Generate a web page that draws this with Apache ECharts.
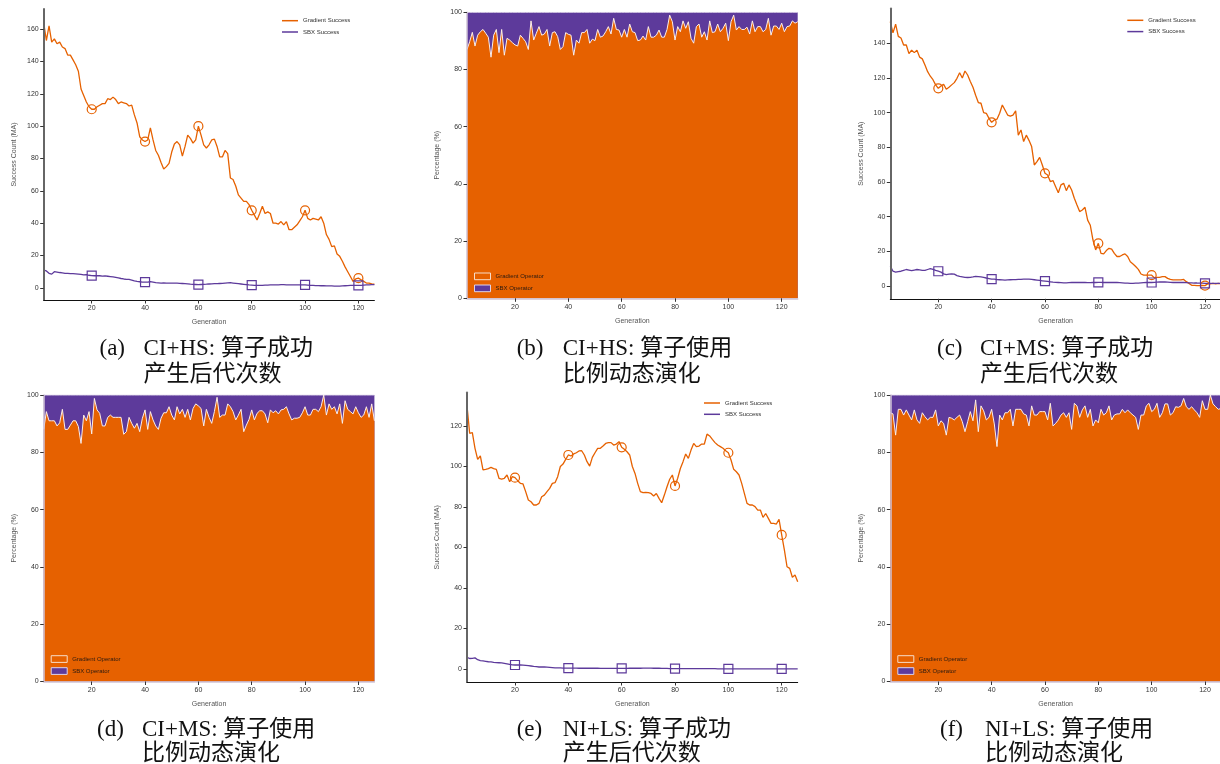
<!DOCTYPE html>
<html>
<head>
<meta charset="utf-8">
<script src="https://cdn.jsdelivr.net/npm/echarts@6/dist/echarts.min.js"></script>
<style>
html, body { margin: 0; padding: 0; background: #fff; }
#main { width: 1220px; height: 764px; }
</style>
</head>
<body>
<div id="main"></div>
<script>
// generations 2..126 on every panel
var generations = [];
for (var g = 2; g <= 126; g++) generations.push(g);

var genTicks = [20, 40, 60, 80, 100, 120];
var markerGens = [20, 40, 60, 80, 100, 120];
var pctTicks = [0, 20, 40, 60, 80, 100];
var countTicksA = [0, 20, 40, 60, 80, 100, 120, 140, 160];
var countTicksC = [0, 20, 40, 60, 80, 100, 120, 140];
var countTicksE = [0, 20, 40, 60, 80, 100, 120];

// (a) CI+HS success counts (moving average)
var gradSuccessA = [
  164, 153, 162, 152, 154, 151, 152, 149, 148, 144,
  144, 141, 138, 134, 123, 119, 115, 112, 110.5, 110.5,
  112, 113, 114, 114, 117, 116.5, 118, 116.5, 114, 115,
  114.5, 114, 112.5, 113, 107, 102, 93.5, 91.5, 90.5, 91.5,
  99, 91.5, 85, 82, 77.5, 73.5, 75, 77, 84, 89,
  90.5, 88.5, 81.5, 87.5, 94.5, 92.5, 89.5, 91.5, 100, 94.5,
  88.5, 86.5, 88.5, 91.5, 92, 87.5, 81, 81, 85, 83,
  68, 67, 63, 57.5, 55.5, 53.5, 53.5, 51.5, 48, 45,
  42, 46, 50.5, 46, 47, 46, 40, 40, 39.5, 41,
  39, 41, 36, 36, 37.5, 39, 41.5, 44, 48, 43,
  42, 43, 42.5, 42, 44, 40, 33, 30, 25.5, 26,
  21, 19.5, 16.5, 13, 10, 7, 4, 5.5, 6, 5,
  4, 3, 3, 2.5, 2.3
];
var sbxSuccessA = [
  11, 10.5, 9, 8.5, 10, 9.8, 9.5, 9.3, 9, 9,
  8.8, 8.8, 8.7, 8.5, 8.3, 8, 8.2, 7.8, 7.6, 7.5,
  7.6, 7.5, 7.3, 7.4, 7.2, 7, 6.8, 6.5, 6.2, 5.8,
  5.5, 5.3, 5.2, 4.8, 4.3, 4, 3.8, 3.6, 3.5, 3.6,
  3.8, 3.5, 3.2, 3.1, 3, 3.1, 3, 3, 3, 2.9,
  2.9, 2.8, 2.7, 2.6, 2.5, 2.3, 2.2, 2.1, 2, 2.1,
  2.2, 2.3, 2.4, 2.5, 2.6, 2.6, 2.7, 2.8, 3, 3.1,
  3.2, 3, 2.8, 2.6, 2.4, 2.2, 2, 1.8, 1.7, 1.6,
  1.5, 1.5, 1.6, 1.7, 1.7, 1.8, 1.8, 1.8, 1.9, 2,
  2, 1.9, 1.9, 1.8, 1.8, 1.8, 1.8, 1.8, 1.8, 1.7,
  1.6, 1.5, 1.4, 1.4, 1.3, 1.3, 1.2, 1.2, 1.2, 1.1,
  1.1, 1.1, 1.2, 1.3, 1.4, 1.5, 1.6, 1.6, 1.5, 1.6,
  1.7, 1.8, 1.9, 2, 2
];

// (b) CI+HS gradient operator share (%)
var gradShareB = [
  87, 89.7, 93, 88.2, 92, 93.2, 94, 92.7, 91.3, 84.3,
  92, 94, 85.9, 94, 85, 90.9, 90.3, 89.4, 88.6, 88.2,
  92, 90.9, 89.7, 87, 97, 90.3, 92.7, 95, 92, 92.4,
  94, 88.2, 92.9, 93.2, 91.5, 87, 88, 92.9, 92.3, 92,
  85, 90.3, 89.2, 92.9, 92.9, 94, 89.2, 90.6, 90.1, 94,
  91.3, 91.7, 93.2, 95, 92.4, 97.9, 94, 93.8, 91.3, 94,
  91.3, 95.9, 93.2, 92.9, 90.1, 90.3, 91.7, 90.3, 95, 91.3,
  91.3, 92, 93.8, 91.3, 91.3, 94, 99, 96.7, 90.3, 95,
  93.2, 97, 94.4, 96.7, 90.9, 89.2, 95, 95.9, 91.3, 93.2,
  90.3, 97, 92.9, 93.2, 95.9, 93.2, 94.4, 96.2, 90.1, 96.7,
  99, 93.8, 95, 94, 94, 94.8, 92.4, 97, 93.2, 95,
  95, 93.2, 94, 97.9, 92, 95.2, 95.2, 94, 96.2, 93.2,
  95, 95.2, 97, 96.2, 96.7
];

// (c) CI+MS success counts (moving average)
var gradSuccessC = [
  152.5, 146, 151, 144, 143, 139, 139, 134, 136, 134.6,
  136, 132, 131, 127.5, 123.6, 121, 119, 116, 114, 115.4,
  116.3, 113.5, 114.6, 116, 117.3, 119.8, 123, 120, 124, 121.7,
  118, 114.6, 110, 105.8, 105.4, 100, 99.6, 96.7, 94.4, 95.8,
  96.2, 99.6, 104.4, 101.5, 98.6, 98, 98.6, 101, 87, 90,
  83.3, 87, 84, 80.4, 69.8, 71.7, 74.2, 69.8, 65, 64,
  60.2, 60.8, 57.3, 53.8, 58.3, 59.2, 55, 58.3, 55.4, 50.6,
  46.7, 42.9, 43.8, 45.4, 38, 35, 26.5, 20.8, 24.6, 18.8,
  18.5, 20.4, 21.7, 21.2, 18.8, 17, 17, 17.9, 18.5, 17,
  14, 12.7, 11.2, 9.6, 6.9, 6.3, 6.3, 6.3, 6.2, 4.8,
  5, 5, 5.4, 5.4, 4.4, 3.8, 3.5, 3.5, 3.5, 3.5,
  3.8, 2.5, 1.5, 0.4, 0.4, 0.2, 0.2, 0.4, 0.2, 1.2,
  1.2, 1.5, 1.2, 1.5, 1.2
];
var sbxSuccessC = [
  11.5, 8.5, 8, 8.3, 8.5, 9, 9.5, 9.2, 8.8, 9.2,
  9.5, 9.3, 9, 9, 9.5, 10, 9.6, 9, 8.5, 8,
  7, 6.5, 6.8, 7, 6.8, 6, 5.5, 5.3, 5, 4.9,
  5, 5.2, 5.5, 5.4, 5.2, 5, 4.6, 4.3, 4, 3.9,
  3.7, 3.6, 3.5, 3.4, 3.5, 3.6, 3.7, 3.7, 3.8, 3.8,
  3.9, 4, 4, 3.8, 3.6, 3.4, 3.2, 3, 2.8, 2.6,
  2.4, 2.2, 2.1, 2, 1.9, 1.8, 1.8, 1.9, 2, 2,
  2.1, 2, 2, 2, 1.9, 1.9, 2, 2, 2.1, 2.1,
  2, 2, 2, 2, 2.1, 2, 1.9, 1.8, 1.7, 1.6,
  1.5, 1.5, 1.6, 1.7, 1.8, 1.9, 2, 2, 2, 2.1,
  2.2, 2.3, 2.3, 2.3, 2.2, 2.1, 2, 2, 2, 2,
  2, 1.9, 1.8, 1.8, 1.7, 1.7, 1.6, 1.6, 1.5, 1.5,
  1.5, 1.5, 1.5, 1.5, 1.5
];

// (d) CI+MS gradient operator share (%)
var gradShareD = [
  88, 94.2, 91, 91, 91, 89.2, 90.3, 95, 88, 88,
  89.5, 91, 91, 89, 83.1, 93, 91, 94.2, 86.4, 98.8,
  94.8, 93.6, 89.2, 89.2, 92.2, 93, 92.2, 92.2, 92.2, 92.2,
  86.3, 87.2, 92.2, 90.1, 88.4, 90.1, 87.2, 91.9, 94.8, 88,
  94.2, 91.3, 89.2, 88, 91.9, 93.8, 93.8, 95.9, 93, 91.3,
  95.9, 93.4, 95, 92.2, 95, 91.3, 95.3, 96.9, 96.2, 95.3,
  89.2, 95, 92.2, 90.1, 94.2, 99.2, 92.2, 93, 93, 96.9,
  95.9, 94.2, 91.3, 93, 95, 87.2, 89.5, 91.5, 94.8, 91.3,
  93.6, 94.5, 94.5, 93.4, 90.3, 94.8, 93.8, 94.5, 93.4, 94.8,
  95, 95.9, 93.4, 91.3, 91.9, 91.9, 92.2, 93.8, 95.9, 93,
  93, 95, 95, 94.2, 95.9, 100, 93, 96.9, 95, 95.9,
  93.4, 96.9, 90.1, 98, 95, 94.2, 93.4, 95.9, 93.8, 92.2,
  93, 95.9, 92.2, 96.9, 91
];

// (e) NI+LS success counts (moving average)
var gradSuccessE = [
  130, 116.4, 116.7, 109, 103.5, 105.2, 98.3, 98.6, 99, 99.6,
  99, 98.6, 94.2, 93.8, 94.2, 95.8, 92.5, 95, 94.5, 93,
  91.7, 91.4, 87.6, 83.5, 82.6, 81, 81, 81.8, 85.1, 85.9,
  87.6, 89.2, 91.7, 92, 95, 100, 101.2, 103.5, 105.7, 105.2,
  106.2, 106.8, 107.7, 107.8, 105.7, 102.4, 100.2, 104.5, 106.8, 109,
  109, 110.1, 111.4, 111.8, 111.8, 110.6, 111.1, 112.3, 109.5, 108.5,
  107.3, 105.7, 100, 96.6, 91.7, 87.6, 87.1, 87.2, 87.1, 86.7,
  85.4, 86.7, 84.3, 82.1, 85.9, 90, 93.7, 95.8, 90.4, 94.2,
  99, 102.4, 106.2, 104, 108.1, 111.4, 109.8, 110.1, 111.1, 111.1,
  116, 115.1, 113.4, 111.8, 110.6, 109.8, 109, 107.8, 106.8, 103.2,
  98.6, 97.4, 95.8, 91.7, 86.7, 81.8, 81, 81, 80.2, 78.5,
  78.5, 74.9, 76.8, 74.4, 71.9, 71.9, 71.6, 73.9, 66.2, 58.8,
  50.5, 49.7, 45.3, 46.4, 43.1
];
var sbxSuccessE = [
  5.8, 5.2, 5.3, 5.5, 4.6, 4.2, 4, 3.8, 3.6, 3.5,
  3.3, 3.2, 3.1, 3, 2.8, 2.6, 2.3, 2.1, 2, 2,
  2, 1.9, 1.8, 1.7, 1.5, 1.3, 1.2, 1, 1, 1,
  0.9, 0.8, 0.7, 0.6, 0.6, 0.6, 0.5, 0.5, 0.5, 0.5,
  0.5, 0.5, 0.4, 0.4, 0.4, 0.4, 0.4, 0.4, 0.4, 0.4,
  0.3, 0.3, 0.3, 0.3, 0.3, 0.3, 0.3, 0.3, 0.3, 0.3,
  0.3, 0.4, 0.4, 0.4, 0.4, 0.4, 0.5, 0.5, 0.5, 0.5,
  0.4, 0.4, 0.4, 0.3, 0.3, 0.3, 0.2, 0.2, 0.2, 0.2,
  0.2, 0.2, 0.2, 0.2, 0.2, 0.2, 0.2, 0.2, 0.2, 0.2,
  0.2, 0.2, 0.2, 0.2, 0.1, 0.1, 0.1, 0.1, 0.1, 0.1,
  0.1, 0.1, 0.1, 0.1, 0.1, 0.1, 0.1, 0.1, 0.1, 0.1,
  0.1, 0.1, 0.1, 0.1, 0.1, 0.1, 0.1, 0.1, 0.1, 0.1,
  0.1, 0.1, 0.1, 0.1, 0.1
];

// (f) NI+LS gradient operator share (%)
var gradShareF = [
  93.8, 93.4, 86, 95, 95, 93, 94.8, 93, 91.3, 94.8,
  91.3, 90.1, 93.8, 92.4, 91.3, 92.2, 92.2, 94.8, 89.2, 91,
  90.1, 86, 92.2, 91.9, 91.3, 92.2, 93, 90.7, 87.2, 90.7,
  94.2, 91, 98.3, 87.2, 96.2, 94.5, 91.3, 92.2, 95, 89.9,
  82, 93, 91.3, 93.8, 93.8, 95, 89.2, 95, 95, 95,
  93.4, 93, 89.2, 96.2, 93, 93, 94.2, 94.2, 94.2, 91.3,
  97.1, 89.2, 90.1, 91.3, 93, 93.8, 92.2, 93.8, 88, 97.1,
  96.2, 92.2, 94.8, 96.2, 92.2, 95, 89.2, 91.3, 90.3, 95,
  93, 93.8, 96.2, 91.3, 93, 93.4, 93.4, 95, 93.8, 94.8,
  93.8, 93, 92.2, 88, 93, 93, 96.2, 97.1, 94.2, 95,
  97.1, 92.2, 93.8, 96.9, 96.9, 93, 93.8, 95.9, 95.7, 96.2,
  98.8, 95.9, 95, 95.9, 94.8, 93.8, 92.2, 98, 95, 95,
  100, 96.9, 95.9, 95, 95.3
];

// the SBX share is the rest of each generation's 100%
function complement(vals) { return vals.map(function (v) { return Math.round((100 - v) * 10) / 10; }); }
var sbxShareB = complement(gradShareB);
var sbxShareD = complement(gradShareD);
var sbxShareF = complement(gradShareF);

var captionTags = ['(a)', '(b)', '(c)', '(d)', '(e)', '(f)'];
var captionLine1 = ['CI+HS: 算子成功', 'CI+HS: 算子使用', 'CI+MS: 算子成功', 'CI+MS: 算子使用', 'NI+LS: 算子成功', 'NI+LS: 算子使用'];
var captionLine2 = ['产生后代次数', '比例动态演化', '产生后代次数', '比例动态演化', '产生后代次数', '比例动态演化'];

var ORANGE = '#E66100';
var PURPLE = '#5D3A9B';
var FONT = '"Liberation Sans", Arial, sans-serif';
var CAPFONT = '23px "Liberation Serif", "Noto Sans CJK SC", serif';

// panel layout
var panels = [
  { left: 43.7, top: 9, width: 330.7, height: 291, yMin: -7.5, yMax: 172.5, kind: 'count', ticks: countTicksA },
  { left: 467, top: 12.3, width: 330.7, height: 286, yMin: 0, yMax: 100, kind: 'share', ticks: pctTicks },
  { left: 890.3, top: 8.6, width: 330.7, height: 290.2, yMin: -7.4, yMax: 160, kind: 'count', ticks: countTicksC },
  { left: 43.7, top: 395, width: 330.7, height: 286.5, yMin: 0, yMax: 100, kind: 'share', ticks: pctTicks },
  { left: 467, top: 392.6, width: 330.7, height: 289.4, yMin: -6.4, yMax: 136.5, kind: 'count', ticks: countTicksE },
  { left: 890.3, top: 395, width: 330.7, height: 286.5, yMin: 0, yMax: 100, kind: 'share', ticks: pctTicks }
];
var captionPos = [
  { tagX: 99.5, textX: 143.5, y1: 348.5, y2: 374.5 },
  { tagX: 516.7, textX: 562.7, y1: 348.5, y2: 374.5 },
  { tagX: 937, textX: 980, y1: 348.5, y2: 374.5 },
  { tagX: 97, textX: 142, y1: 729.5, y2: 754 },
  { tagX: 516.7, textX: 562.7, y1: 729.5, y2: 754 },
  { tagX: 940, textX: 985, y1: 729.5, y2: 754 }
];

function toPairs(vals) {
  return vals.map(function (v, i) { return [generations[i], v]; });
}

function successSeries(name, vals, idx, color, symbol) {
  return {
    type: 'line', name: name, xAxisIndex: idx, yAxisIndex: idx,
    data: toPairs(vals),
    symbol: symbol, showSymbol: true, showAllSymbol: true,
    symbolSize: function (v) { return markerGens.indexOf(v[0]) >= 0 ? 9 : 0; },
    lineStyle: { color: color, width: 1.3 },
    itemStyle: { color: 'rgba(255,255,255,0)', borderColor: color, borderWidth: 1.2 },
    emphasis: { disabled: true },
    z: 2
  };
}

// share panels: purple band drawn up to the running total, orange share on top of it
function shareSeries(gradVals, sbxVals, idx) {
  var topVals = gradVals.map(function (v, i) { return v + sbxVals[i]; });
  return [
    {
      type: 'line', name: 'SBX Operator', xAxisIndex: idx, yAxisIndex: idx,
      data: toPairs(topVals), symbol: 'none',
      lineStyle: { color: '#d9cfe6', width: 1 },
      areaStyle: { color: PURPLE, opacity: 1, origin: 'start' },
      itemStyle: { color: PURPLE },
      emphasis: { disabled: true }, z: 1
    },
    {
      type: 'line', name: 'Gradient Operator', xAxisIndex: idx, yAxisIndex: idx,
      data: toPairs(gradVals), symbol: 'none',
      lineStyle: { color: '#fbeee8', width: 1 },
      areaStyle: { color: ORANGE, opacity: 1, origin: 'start' },
      itemStyle: { color: ORANGE },
      emphasis: { disabled: true }, z: 2
    }
  ];
}

var grids = [], xAxes = [], yAxes = [], series = [], legends = [], graphics = [];

panels.forEach(function (p, i) {
  var isShare = p.kind === 'share';
  grids.push({ left: p.left, top: p.top, width: p.width, height: p.height, outerBoundsMode: 'none', containLabel: false });
  xAxes.push({
    type: 'value', gridIndex: i, min: 2, max: 126,
    name: 'Generation', nameLocation: 'middle', nameGap: 19,
    nameTextStyle: { fontFamily: FONT, fontSize: 7, color: '#555' },
    axisLine: { show: true, onZero: false, lineStyle: { color: isShare ? '#cfc3d6' : '#111', width: isShare ? 1.5 : 1 } },
    axisTick: { show: true, length: 3.5, lineStyle: { color: '#333', width: 1 }, customValues: genTicks },
    axisLabel: { fontFamily: FONT, fontSize: 7, color: '#333', margin: 5, customValues: genTicks },
    splitLine: { show: false },
    z: 5
  });
  yAxes.push({
    type: 'value', gridIndex: i, min: p.yMin, max: p.yMax,
    name: isShare ? 'Percentage (%)' : 'Success Count (MA)',
    nameLocation: 'middle', nameGap: 26, nameRotate: 90,
    nameTextStyle: { fontFamily: FONT, fontSize: 7, color: '#555' },
    axisLine: { show: true, onZero: false, lineStyle: { color: isShare ? '#cfc3d6' : '#666', width: isShare ? 1.5 : 2 } },
    axisTick: { show: true, length: 3.5, lineStyle: { color: '#333', width: 1 }, customValues: p.ticks },
    axisLabel: { fontFamily: FONT, fontSize: 7, color: '#333', margin: 5, customValues: p.ticks },
    splitLine: { show: false },
    z: 5
  });
});

series.push(successSeries('Gradient Success', gradSuccessA, 0, ORANGE, 'circle'));
series.push(successSeries('SBX Success', sbxSuccessA, 0, PURPLE, 'rect'));
series = series.concat(shareSeries(gradShareB, sbxShareB, 1));
series.push(successSeries('Gradient Success', gradSuccessC, 2, ORANGE, 'circle'));
series.push(successSeries('SBX Success', sbxSuccessC, 2, PURPLE, 'rect'));
series = series.concat(shareSeries(gradShareD, sbxShareD, 3));
series.push(successSeries('Gradient Success', gradSuccessE, 4, ORANGE, 'circle'));
series.push(successSeries('SBX Success', sbxSuccessE, 4, PURPLE, 'rect'));
series = series.concat(shareSeries(gradShareF, sbxShareF, 5));

function successLegend(left, top) {
  return {
    left: left, top: top, orient: 'vertical', itemGap: 3.3, z: 10,
    itemWidth: 16, itemHeight: 1.5, padding: 0, selectedMode: false,
    textStyle: { fontFamily: FONT, fontSize: 6, color: '#333', lineHeight: 8 },
    data: [
      { name: 'Gradient Success', icon: 'rect', itemStyle: { color: ORANGE, borderWidth: 0 } },
      { name: 'SBX Success', icon: 'rect', itemStyle: { color: PURPLE, borderWidth: 0 } }
    ]
  };
}
function shareLegend(left, top) {
  return {
    left: left, top: top, orient: 'vertical', itemGap: 4.3, z: 10,
    itemWidth: 16, itemHeight: 6.7, padding: 0, selectedMode: false,
    textStyle: { fontFamily: FONT, fontSize: 6, color: '#2a1a10', lineHeight: 7 },
    data: [
      { name: 'Gradient Operator', icon: 'rect', itemStyle: { color: ORANGE, borderColor: '#f7dcc8', borderWidth: 1 } },
      { name: 'SBX Operator', icon: 'rect', itemStyle: { color: PURPLE, borderColor: '#ddd3ea', borderWidth: 1 } }
    ]
  };
}
legends.push(successLegend(282, 16.7));
legends.push(shareLegend(474, 272.5));
legends.push(successLegend(1127.3, 16.3));
legends.push(shareLegend(50.7, 655.2));
legends.push(successLegend(704, 399));
legends.push(shareLegend(897.3, 655.2));

captionPos.forEach(function (c, i) {
  graphics.push({ type: 'text', x: c.tagX, y: c.y1, style: { text: captionTags[i], font: CAPFONT, fill: '#111', textVerticalAlign: 'middle' } });
  graphics.push({ type: 'text', x: c.textX, y: c.y1, style: { text: captionLine1[i], font: CAPFONT, fill: '#111', textVerticalAlign: 'middle' } });
  graphics.push({ type: 'text', x: c.textX, y: c.y2, style: { text: captionLine2[i], font: CAPFONT, fill: '#111', textVerticalAlign: 'middle' } });
});

var chart = echarts.init(document.getElementById('main'), null, { renderer: 'canvas' });
chart.setOption({
  animation: false,
  backgroundColor: '#fff',
  grid: grids,
  xAxis: xAxes,
  yAxis: yAxes,
  legend: legends,
  series: series,
  graphic: graphics
});
</script>
</body>
</html>
